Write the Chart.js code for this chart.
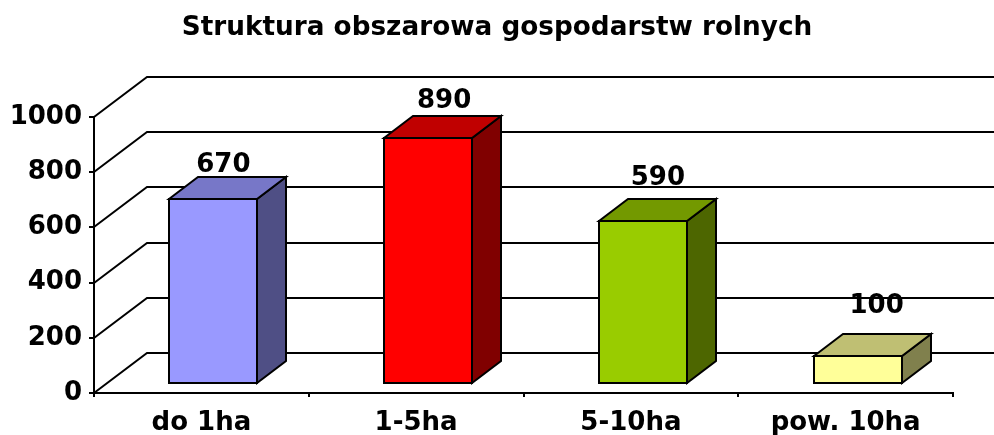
<!DOCTYPE html>
<html>
<head>
<meta charset="utf-8">
<script src="https://cdn.jsdelivr.net/npm/chart.js@4"></script>
<style>
html,body{margin:0;padding:0;background:#fff;}
#c{display:block;}
</style>
</head>
<body>
<canvas id="c" width="994" height="435"></canvas>
<script>
const titleText = 'Struktura obszarowa gospodarstw rolnych';
const categories = ['do 1ha', '1-5ha', '5-10ha', 'pow. 10ha'];
const values = [670, 890, 590, 100];
const yTicks = [0, 200, 400, 600, 800, 1000];
const frontColors = ['#9999FF', '#FF0000', '#99CC00', '#FFFF99'];
const topColors   = ['#7777C8', '#C00000', '#739900', '#BFBF73'];
const sideColors  = ['#4F4F85', '#800000', '#4D6600', '#80804D'];

const FONT = 'DejaVu Sans';
const WALL_DX = 53, WALL_DY = -40;   // depth of the plot box
const BAR_FX = 12, BAR_FY = -9;      // bar front offset inside the box
const BAR_DX = 29, BAR_DY = -22;     // bar depth
const labelNudgeY = [7, 4, -2, -9];
const labelNudgeX = [-4, 2, 1, 5];

const wallPlugin = {
  id: 'wall3d',
  beforeDraw(chart) {
    const {ctx} = chart;
    ctx.save();
    ctx.fillStyle = '#000';
    ctx.font = 'bold 26.3px "' + FONT + '"';
    ctx.textAlign = 'center';
    ctx.textBaseline = 'middle';
    ctx.fillText(titleText, chart.width / 2, 28);
    ctx.restore();
  },
  beforeDatasetsDraw(chart) {
    const {ctx, chartArea, scales} = chart;
    const y = scales.y;
    ctx.save();
    ctx.strokeStyle = '#000';
    ctx.lineWidth = 2;
    ctx.lineCap = 'butt';
    yTicks.forEach(v => {
      const py = Math.round(y.getPixelForValue(v));
      ctx.beginPath();
      ctx.moveTo(chartArea.left, py);
      ctx.lineTo(chartArea.left + WALL_DX, py + WALL_DY);
      ctx.lineTo(chart.width + 5, py + WALL_DY);
      ctx.stroke();
    });
    ctx.restore();
  },
  afterDatasetsDraw(chart) {
    const {ctx} = chart;
    const meta = chart.getDatasetMeta(0);
    ctx.save();
    ctx.strokeStyle = '#000';
    ctx.lineWidth = 2;
    ctx.lineJoin = 'miter';
    meta.data.forEach((bar, i) => {
      const w = bar.width;
      const x0 = Math.round(bar.x - w / 2 + BAR_FX);
      const x1 = Math.round(bar.x + w / 2 + BAR_FX);
      const yt = Math.round(bar.y + BAR_FY);
      const yb = Math.round(bar.base + BAR_FY);
      // side face
      ctx.beginPath();
      ctx.moveTo(x1, yt);
      ctx.lineTo(x1 + BAR_DX, yt + BAR_DY);
      ctx.lineTo(x1 + BAR_DX, yb + BAR_DY);
      ctx.lineTo(x1, yb);
      ctx.closePath();
      ctx.fillStyle = sideColors[i];
      ctx.fill(); ctx.stroke();
      // top face
      ctx.beginPath();
      ctx.moveTo(x0, yt);
      ctx.lineTo(x0 + BAR_DX, yt + BAR_DY);
      ctx.lineTo(x1 + BAR_DX, yt + BAR_DY);
      ctx.lineTo(x1, yt);
      ctx.closePath();
      ctx.fillStyle = topColors[i];
      ctx.fill(); ctx.stroke();
      // front face
      ctx.beginPath();
      ctx.rect(x0, yt, x1 - x0, yb - yt);
      ctx.fillStyle = frontColors[i];
      ctx.fill(); ctx.stroke();
      // value label
      ctx.fillStyle = '#000';
      ctx.font = 'bold 26px "' + FONT + '"';
      ctx.textAlign = 'center';
      ctx.textBaseline = 'middle';
      ctx.fillText(String(values[i]), bar.x + 26 + labelNudgeX[i], bar.y - 50 + labelNudgeY[i]);
    });
    ctx.restore();
  }
};

new Chart(document.getElementById('c'), {
  type: 'bar',
  data: {
    labels: categories,
    datasets: [{
      data: values,
      backgroundColor: 'rgba(0,0,0,0)',
      borderWidth: 0,
      barPercentage: 0.41,
      categoryPercentage: 1
    }]
  },
  options: {
    responsive: false,
    animation: false,
    devicePixelRatio: 1,
    layout: { padding: { left: 0, right: 41, top: 117, bottom: 0 } },
    plugins: {
      legend: { display: false },
      tooltip: { enabled: false },
      title: { display: false }
    },
    scales: {
      y: {
        min: 0, max: 1000,
        afterBuildTicks(s) { s.ticks = yTicks.map(v => ({ value: v })); },
        afterFit(s) { s.width = 94; },
        ticks: {
          color: '#000', padding: 7,
          font: { family: FONT, weight: 'bold', size: 26 },
          callback: v => String(v)
        },
        grid: { drawOnChartArea: false, drawTicks: true, tickLength: 5, color: '#000', lineWidth: 2 },
        border: { display: true, color: '#000', width: 2 }
      },
      x: {
        afterFit(s) { s.height = 42; },
        ticks: {
          color: '#000', padding: 11,
          font: { family: FONT, weight: 'bold', size: 26 }
        },
        grid: { offset: true, drawOnChartArea: false, drawTicks: true, tickLength: 4, color: '#000', lineWidth: 2 },
        border: { display: true, color: '#000', width: 2 }
      }
    }
  },
  plugins: [wallPlugin]
});
</script>
</body>
</html>
